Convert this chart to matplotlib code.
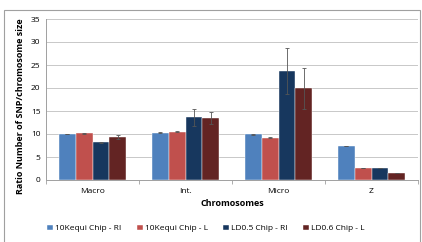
import matplotlib
matplotlib.use("Agg")
import matplotlib.pyplot as plt
import numpy as np
from matplotlib.patches import Rectangle

plt.rcParams["font.family"] = ["Open Sans", "DejaVu Sans"]

categories = ["Macro", "Int.", "Micro", "Z"]
series = ["10Kequi Chip - RI", "10Kequi Chip - L", "LD0.5 Chip - RI", "LD0.6 Chip - L"]
values = [
    [10.0, 10.3, 9.9, 7.4],
    [10.2, 10.5, 9.2, 2.7],
    [8.2, 13.6, 23.6, 2.7],
    [9.4, 13.5, 19.9, 1.6],
]
errors = [
    [0.1, 0.1, 0.15, 0.0],
    [0.1, 0.1, 0.15, 0.0],
    [0.15, 1.9, 5.0, 0.0],
    [0.4, 1.3, 4.4, 0.0],
]
colors = ["#4F81BD", "#C0504D", "#17375E", "#632423"]

fig = plt.figure(figsize=(4.22, 2.42), dpi=100)
fig.patches.append(Rectangle((4 / 422, -0.1), 416 / 422, 1.1 - 10 / 242,
                             transform=fig.transFigure, fill=False,
                             edgecolor="#A0A0A0", linewidth=0.8))
ax = fig.add_axes([46 / 422, 1 - 180 / 242, 372 / 422, 161 / 242])

x = np.arange(len(categories))
w = 0.18
for i, (s, v, e, c) in enumerate(zip(series, values, errors, colors)):
    pos = x + (i - 1.5) * w
    ax.bar(pos, v, w, color=c, label=s, edgecolor="white", linewidth=0.3, zorder=2)
    ax.errorbar(pos, v, yerr=e, fmt="none", ecolor="#555555", elinewidth=0.6,
                capsize=1.2, capthick=0.6, zorder=3)

ax.set_xlim(-0.5, len(categories) - 0.5)
ax.set_ylim(0, 35)
ax.set_yticks(range(0, 36, 5))
ax.set_xticks(x)
ax.set_xticklabels(categories)
ax.set_xticks(np.arange(-0.5, len(categories), 1.0), minor=True)
ax.tick_params(axis="x", which="major", length=0, labelsize=6, pad=6)
ax.tick_params(axis="x", which="minor", length=3, color="#A0A0A0")
ax.tick_params(axis="y", length=0, labelsize=6, pad=4)
ax.grid(axis="y", color="#C8C8C8", linewidth=0.7, zorder=0)
ax.set_axisbelow(True)
for sp in ["top", "right"]:
    ax.spines[sp].set_visible(False)
ax.spines["left"].set_color("#A0A0A0")
ax.spines["bottom"].set_color("#A0A0A0")
ax.spines["left"].set_linewidth(0.7)
ax.spines["bottom"].set_linewidth(0.7)

ax.set_xlabel("Chromosomes", fontsize=6.5, fontweight="bold", labelpad=3)
ax.set_ylabel("Ratio Number of SNP/chromosome size", fontsize=6.5, fontweight="bold")
ax.yaxis.set_label_coords(-0.057, 0.46)

ax.legend(loc="upper center", bbox_to_anchor=(0.43, -0.23), ncol=4, frameon=False,
          fontsize=6, handlelength=0.7, handleheight=0.7, columnspacing=1.8,
          handletextpad=0.3)

fig.savefig("out.png", dpi=100)
